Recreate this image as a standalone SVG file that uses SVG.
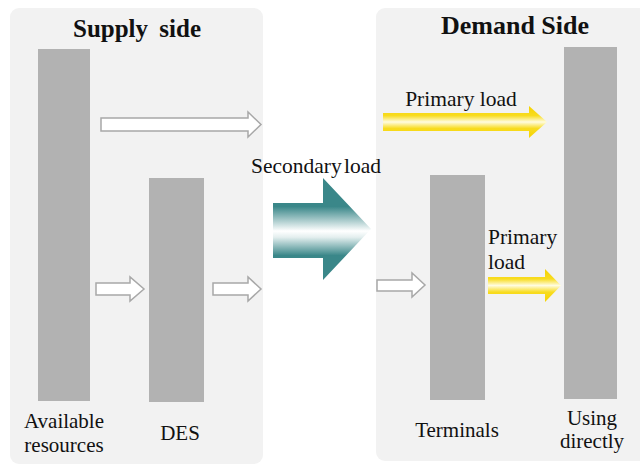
<svg xmlns="http://www.w3.org/2000/svg" width="640" height="466" viewBox="0 0 640 466">
<style>
.panel{fill:#f2f2f2}
.bar{fill:#b2b2b2}
.hollow{fill:#ffffff;stroke:#a8a8a8;stroke-width:1.5}
.t{font-family:"Liberation Serif","Times New Roman",serif;font-size:21px;fill:#111}
.l{font-family:"Liberation Serif","Times New Roman",serif;font-size:21.5px;fill:#111}
.h{font-family:"Liberation Serif","Times New Roman",serif;font-weight:bold;fill:#111}
</style>
<defs>
<linearGradient id="teal" x1="0" y1="0" x2="0" y2="1">
<stop offset="0" stop-color="#3a8789"/>
<stop offset="0.28" stop-color="#3a8789"/>
<stop offset="0.52" stop-color="#ffffff"/>
<stop offset="0.58" stop-color="#e4efef"/>
<stop offset="0.76" stop-color="#3a8789"/>
<stop offset="1" stop-color="#3a8789"/>
</linearGradient>
<linearGradient id="yellow" x1="0" y1="0" x2="0" y2="1">
<stop offset="0" stop-color="#f5d200"/>
<stop offset="0.3" stop-color="#f8dc20"/>
<stop offset="0.5" stop-color="#fffce0"/>
<stop offset="0.7" stop-color="#f8dc20"/>
<stop offset="1" stop-color="#f5d200"/>
</linearGradient>
</defs>
<rect width="640" height="466" fill="#ffffff"/>
<g id="supply-side">
<rect class="panel" x="10" y="8" width="253" height="456" rx="9"/>
<text class="h" x="137" y="37" text-anchor="middle" font-size="25" word-spacing="5">Supply side</text>
</g>
<g id="demand-side">
<rect class="panel" x="376" y="8" width="280" height="453" rx="9"/>
<text class="h" x="515" y="34" text-anchor="middle" font-size="26">Demand Side</text>
</g>
<g id="available-resources">
<rect class="bar" x="38" y="49" width="52" height="352"/>
<text class="t" x="64" y="428" text-anchor="middle">Available</text>
<text class="t" x="64" y="452" text-anchor="middle">resources</text>
</g>
<g id="des">
<rect class="bar" x="149" y="178" width="55" height="224"/>
<text class="t" x="180" y="440" text-anchor="middle">DES</text>
</g>
<g id="terminals">
<rect class="bar" x="430" y="175" width="55" height="225"/>
<text class="t" x="457" y="437" text-anchor="middle">Terminals</text>
</g>
<g id="using-directly">
<rect class="bar" x="564" y="47" width="53" height="352"/>
<text class="t" x="592" y="425" text-anchor="middle">Using</text>
<text class="t" x="592" y="448" text-anchor="middle">directly</text>
</g>
<g id="connectors">
<path class="hollow" d="M101,118 H248 V112 L261,124.5 L248,137 V131 H101 Z"/>
<path class="hollow" d="M96,283 H130 V277 L144,289 L130,301 V295 H96 Z"/>
<path class="hollow" d="M213,283 H248 V277 L261,289 L248,301 V295 H213 Z"/>
<path class="hollow" d="M377,280 H412 V273 L425,285 L412,297 V291 H377 Z"/>
<path fill="url(#teal)" d="M273,203 H323 V178 L371,229 L323,280 V258 H273 Z"/>
<text class="l" x="316" y="173" text-anchor="middle" word-spacing="-3">Secondary load</text>
<path fill="url(#yellow)" d="M383,113 H529 V106 L547,122 L529,138 V131 H383 Z"/>
<text class="l" x="461" y="106" text-anchor="middle">Primary load</text>
<path fill="url(#yellow)" d="M488,277 H545 V269 L561,285.5 L545,302 V294 H488 Z"/>
<text class="l" x="488" y="244">Primary</text>
<text class="l" x="488" y="269">load</text>
</g>
</svg>
